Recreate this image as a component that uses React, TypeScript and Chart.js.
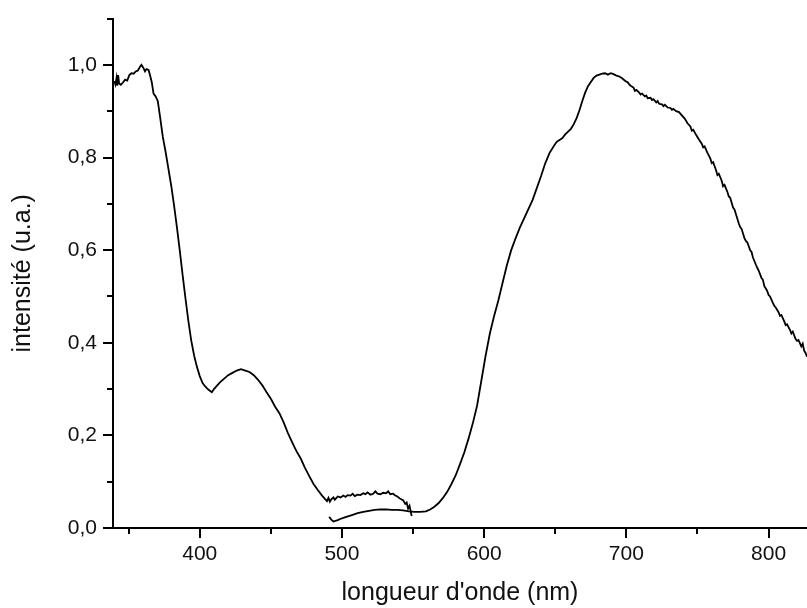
import React, { useEffect, useRef } from "react";
import { Chart, registerables } from "chart.js";

Chart.register(...registerables);

// Spectre 1 (340–549 nm)
const wavelength1: number[] = [
  340, 340.7, 341.5, 342, 342.6, 343.3, 344.5, 346, 347.5, 349,
  350.5, 352, 353.5, 355, 356.5, 358, 359, 360.3, 361.5, 362.5,
  364, 365, 366.3, 367.5, 369, 370.5, 372, 374, 376, 378,
  380, 382, 384, 386, 388, 390, 392, 394, 396, 398,
  400, 402, 404, 406, 408.5, 410, 412, 414, 417, 420,
  423, 426, 429, 432, 435, 438, 441, 444, 447, 450,
  453, 456, 459, 462, 465, 468, 471, 474, 477, 480,
  483, 486, 488, 489.5, 490.5, 491.5, 492.5, 494, 495, 497,
  499, 501, 502.5, 504, 506, 507.5, 509, 511, 513, 515,
  516.5, 518, 520, 522, 523.5, 525, 527, 529, 531, 532.5,
  534, 536, 537.5, 539, 541, 543, 544.5, 545.5, 546.5, 547.5,
  548.2, 549,
];
const intensity1: number[] = [
  0.965, 0.958, 0.972, 0.955, 0.978, 0.96, 0.957, 0.962, 0.968, 0.966,
  0.978, 0.982, 0.981, 0.986, 0.988, 0.996, 1.0, 0.994, 0.986, 0.991,
  0.989, 0.978, 0.962, 0.938, 0.932, 0.922, 0.89, 0.845, 0.812, 0.775,
  0.738, 0.695, 0.648, 0.598, 0.545, 0.495, 0.447, 0.405, 0.373, 0.348,
  0.328, 0.313, 0.305, 0.299, 0.293, 0.3, 0.307, 0.314, 0.322, 0.33,
  0.335, 0.34, 0.343, 0.34, 0.337, 0.33, 0.32, 0.308, 0.293, 0.279,
  0.262, 0.248, 0.228, 0.205, 0.185, 0.166, 0.15, 0.13, 0.112, 0.095,
  0.082, 0.07, 0.063, 0.058, 0.065, 0.057, 0.062, 0.066, 0.061, 0.068,
  0.066, 0.07, 0.067, 0.071, 0.07, 0.074, 0.069, 0.072, 0.071, 0.075,
  0.073, 0.077, 0.072, 0.074, 0.079, 0.074, 0.073, 0.076, 0.075, 0.079,
  0.073, 0.074, 0.07, 0.068, 0.063, 0.06, 0.052, 0.055, 0.042, 0.048,
  0.038, 0.026,
];

// Spectre 2 (491–827 nm)
const wavelength2: number[] = [
  491, 492.5, 494, 497, 500, 503, 507, 511, 515, 519,
  523, 527, 531, 535, 539, 543, 547, 551, 555, 559,
  562, 565, 568, 571, 574, 577, 580, 583, 586, 589,
  592, 595, 598, 601, 604, 607, 610, 613, 616, 619,
  622, 625, 628, 631, 634, 637, 640, 643, 646, 649,
  651, 653, 655, 657, 659, 661, 663, 665, 667, 669,
  671, 673, 675, 677, 679, 681, 683, 685, 687, 689,
  691, 693, 695, 697, 699, 701, 702, 703, 705, 706,
  707, 709, 710, 711, 713, 714, 715, 717, 718, 719,
  721, 722, 723, 725, 726, 727, 729, 731, 732, 733,
  735, 737, 739, 741, 743, 745, 746, 747, 749, 751,
  753, 754, 755, 757, 759, 760, 761, 763, 764, 765,
  767, 768, 769, 771, 772, 773, 775, 776, 777, 779,
  780, 781, 783, 784, 785, 787, 788, 789, 791, 792,
  793, 795, 796, 797, 799, 800, 801, 803, 804, 805,
  807, 808, 809, 811, 812, 813, 815, 816, 817, 819,
  820, 821, 823, 824, 825, 826, 827,
];
const intensity2: number[] = [
  0.024, 0.018, 0.014, 0.017, 0.021, 0.024, 0.028, 0.032, 0.035, 0.037,
  0.039, 0.04, 0.04, 0.039, 0.039, 0.038, 0.036, 0.035, 0.035, 0.036,
  0.04, 0.046, 0.054, 0.065, 0.078, 0.095, 0.114, 0.138, 0.163, 0.193,
  0.226, 0.264, 0.318, 0.372, 0.42, 0.458, 0.492, 0.53, 0.568, 0.6,
  0.625, 0.648, 0.668, 0.688, 0.708, 0.734, 0.76, 0.788, 0.81, 0.825,
  0.834, 0.838, 0.842, 0.85, 0.856, 0.862, 0.872, 0.885, 0.902, 0.922,
  0.94, 0.954, 0.963, 0.972, 0.977, 0.979, 0.981, 0.982, 0.979, 0.982,
  0.98, 0.977, 0.975, 0.971, 0.966, 0.962, 0.958, 0.955, 0.951, 0.944,
  0.946, 0.94, 0.936, 0.938, 0.932, 0.934, 0.928, 0.929, 0.924, 0.926,
  0.919, 0.922, 0.916, 0.915, 0.911, 0.914, 0.908, 0.907, 0.903, 0.905,
  0.9, 0.898, 0.891, 0.884, 0.874, 0.867, 0.858, 0.86, 0.849, 0.839,
  0.83, 0.822, 0.824, 0.81, 0.798, 0.788, 0.79, 0.773, 0.762, 0.765,
  0.75, 0.738, 0.741, 0.726, 0.716, 0.713, 0.692, 0.688, 0.678, 0.658,
  0.65, 0.646, 0.626, 0.62, 0.617, 0.6, 0.596, 0.584, 0.569, 0.562,
  0.556, 0.54, 0.536, 0.522, 0.512, 0.503, 0.5, 0.486, 0.48, 0.476,
  0.466, 0.458, 0.46, 0.446, 0.438, 0.44, 0.428, 0.42, 0.424, 0.408,
  0.404, 0.406, 0.392, 0.398, 0.383, 0.378, 0.37,
];

const xMajorTicks: number[] = [400, 500, 600, 700, 800];
const xMinorTicks: number[] = [350, 450, 550, 650, 750];
const yMajorTicks: number[] = [0, 0.2, 0.4, 0.6, 0.8, 1.0];
const yMinorTicks: number[] = [0.1, 0.3, 0.5, 0.7, 0.9, 1.1];

const X_MIN = 339;
const X_MAX = 827;
const Y_MIN = 0;
const Y_MAX = 1.1;

const xTitle = "longueur d'onde (nm)";
const yTitle = "intensité (u.a.)";

const FONT = "'Liberation Sans', Arial, 'DejaVu Sans', sans-serif";

const tickMarksPlugin = {
  id: "tickMarks",
  afterDraw(chart: any) {
    const { ctx, chartArea, scales } = chart;
    const xs = scales.x;
    const ys = scales.y;
    ctx.save();
    ctx.strokeStyle = "#000";
    ctx.lineWidth = 2;
    ctx.beginPath();
    const drawX = (vals: number[], len: number) => {
      for (const v of vals) {
        const px = Math.round(xs.getPixelForValue(v));
        ctx.moveTo(px, chartArea.bottom);
        ctx.lineTo(px, chartArea.bottom + len);
      }
    };
    const drawY = (vals: number[], len: number) => {
      for (const v of vals) {
        const py = Math.round(ys.getPixelForValue(v));
        ctx.moveTo(chartArea.left, py);
        ctx.lineTo(chartArea.left - len, py);
      }
    };
    drawX(xMajorTicks, 10);
    drawX(xMinorTicks, 6);
    drawY(yMajorTicks, 10);
    drawY(yMinorTicks, 6);
    ctx.stroke();
    ctx.restore();
  },
};

export default function App() {
  const canvasRef = useRef<HTMLCanvasElement | null>(null);

  useEffect(() => {
    if (!canvasRef.current) return;
    const toPoints = (xs: number[], ys: number[]) => xs.map((x, i) => ({ x, y: ys[i] }));
    const lineStyle = {
      borderColor: "#000",
      borderWidth: 1.8,
      pointRadius: 0,
      tension: 0,
      fill: false,
    };
    const chart = new Chart(canvasRef.current, {
      type: "line",
      data: {
        datasets: [
          { data: toPoints(wavelength1, intensity1), ...lineStyle },
          { data: toPoints(wavelength2, intensity2), ...lineStyle },
        ],
      },
      options: {
        animation: false,
        responsive: false,
        devicePixelRatio: 1,
        parsing: false as any,
        layout: { padding: { top: 16, right: 0, left: 0, bottom: 0 } },
        plugins: {
          legend: { display: false },
          tooltip: { enabled: false },
        },
        scales: {
          x: {
            type: "linear",
            min: X_MIN,
            max: X_MAX,
            afterBuildTicks: (scale: any) => {
              scale.ticks = xMajorTicks.map((v) => ({ value: v }));
            },
            afterFit: (scale: any) => {
              scale.height = 80;
            },
            border: { display: true, color: "#000", width: 2 },
            grid: {
              display: true,
              drawOnChartArea: false,
              drawTicks: true,
              tickLength: 10,
              color: "rgba(0,0,0,0)",
            },
            ticks: {
              autoSkip: false,
              maxRotation: 0,
              padding: 4,
              color: "#111",
              font: { family: FONT, size: 21 },
              callback: (v: any) => String(v),
            },
            title: {
              display: true,
              text: xTitle,
              color: "#111",
              font: { family: FONT, size: 25 },
              padding: { top: 0, bottom: 0 },
            },
          },
          y: {
            type: "linear",
            min: Y_MIN,
            max: Y_MAX,
            afterBuildTicks: (scale: any) => {
              scale.ticks = yMajorTicks.map((v) => ({ value: v }));
            },
            afterFit: (scale: any) => {
              scale.width = 113;
            },
            border: { display: true, color: "#000", width: 2 },
            grid: {
              display: true,
              drawOnChartArea: false,
              drawTicks: true,
              tickLength: 10,
              color: "rgba(0,0,0,0)",
            },
            ticks: {
              autoSkip: false,
              padding: 6,
              color: "#111",
              font: { family: FONT, size: 21 },
              callback: (v: any) => Number(v).toFixed(1).replace(".", ","),
            },
            title: {
              display: true,
              text: yTitle,
              color: "#111",
              font: { family: FONT, size: 25 },
              padding: { top: 8, bottom: 0 },
            },
          },
        },
      },
      plugins: [tickMarksPlugin],
    } as any);
    return () => chart.destroy();
  }, []);

  return (
    <div style={{ position: "absolute", left: 0, top: 0, width: 807, height: 608, background: "#fff" }}>
      <canvas ref={canvasRef} width={807} height={608} style={{ display: "block" }} />
    </div>
  );
}
